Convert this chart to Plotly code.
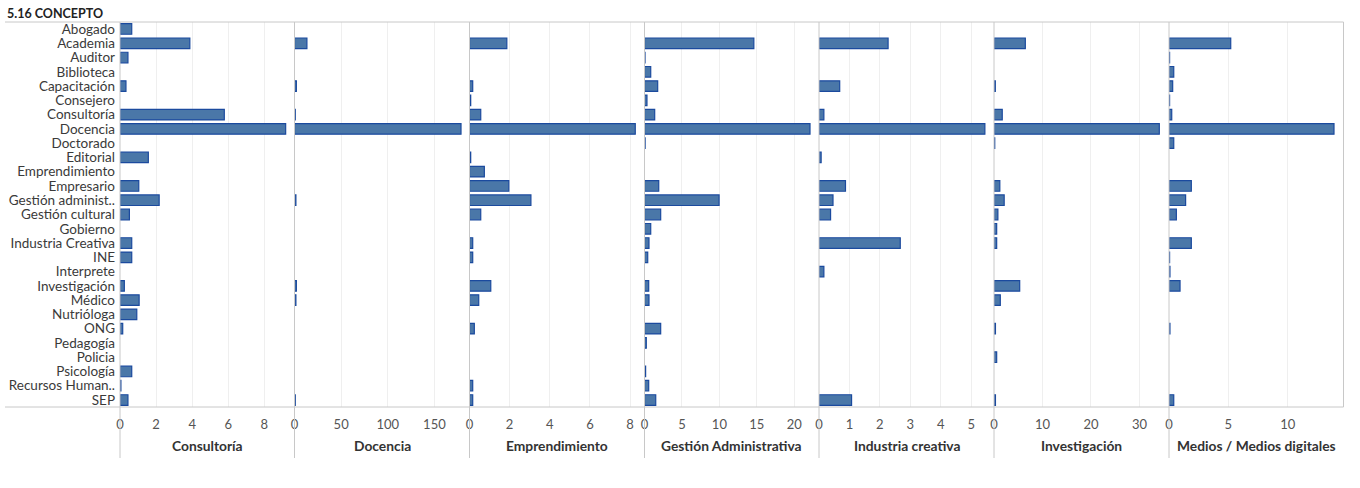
import plotly.graph_objects as go

W, H = 1360, 488

categories = ["Abogado", "Academia", "Auditor", "Biblioteca", "Capacitación", "Consejero",
              "Consultoría", "Docencia", "Doctorado", "Editorial", "Emprendimiento", "Empresario",
              "Gestión administ..", "Gestión cultural", "Gobierno", "Industria Creativa", "INE",
              "Interprete", "Investigación", "Médico", "Nutrióloga", "ONG", "Pedagogía", "Policia",
              "Psicología", "Recursos Human..", "SEP"]

panels = ["Consultoría", "Docencia", "Emprendimiento", "Gestión Administrativa",
          "Industria creativa", "Investigación", "Medios / Medios digitales"]

N = None
consultoria = [0.65, 3.87, 0.44, N, 0.33, N, 5.78, 9.18, N, 1.57, N, 1.04, 2.17, 0.52, N, 0.65,
               0.65, N, 0.24, 1.06, 0.93, 0.15, N, N, 0.65, 0.05, 0.44]
docencia = [N, 13.3, N, N, 2.0, N, 0.8, 178.5, N, N, N, N, 1.5, N, N, N,
            N, N, 2.0, 1.5, N, N, N, N, N, N, 0.8]
emprendimiento = [N, 1.86, N, N, 0.16, 0.06, 0.56, 8.26, N, 0.06, 0.74, 1.96, 3.06, 0.56, N, 0.16,
                  0.16, N, 1.06, 0.46, N, 0.24, N, N, N, 0.16, 0.16]
gestion_adm = [N, 14.6, 0.07, 0.83, 1.76, 0.33, 1.36, 22.1, 0.08, N, N, 1.9, 9.96, 2.16, 0.83, 0.6,
               0.43, N, 0.56, 0.6, N, 2.16, 0.24, N, 0.15, 0.56, 1.5]
industria = [N, 2.27, N, N, 0.68, N, 0.16, 5.45, N, 0.07, N, 0.87, 0.46, 0.38, N, 2.67,
             N, 0.16, N, N, N, N, N, N, N, N, 1.07]
investigacion = [N, 6.46, N, N, 0.27, N, 1.7, 34.1, 0.15, N, N, 1.2, 2.1, 0.8, 0.55, 0.55,
                 N, N, 5.3, 1.3, N, 0.3, N, 0.55, N, N, 0.3]
medios = [N, 5.2, 0.05, 0.4, 0.31, 0.05, 0.23, 13.9, 0.4, N, N, 1.88, 1.4, 0.62, N, 1.88,
          0.05, 0.08, 0.93, N, N, 0.08, N, N, N, N, 0.4]

series = [consultoria, docencia, emprendimiento, gestion_adm, industria, investigacion, medios]
tick_sets = [[0, 2, 4, 6, 8], [0, 50, 100, 150], [0, 2, 4, 6, 8], [0, 5, 10, 15, 20],
             [0, 1, 2, 3, 4, 5], [0, 10, 20, 30], [0, 5, 10]]
x_max = [9.67, 187.6, 8.72, 23.3, 5.75, 36.1, 14.7]

# panel pixel edges
edges = [120, 294.5, 469.5, 644.5, 819, 994, 1169, 1343.5]

FONT = "Lato"
BAR_FILL = "#4a77a8"
BAR_LINE = "#1b4a9e"

fig = go.Figure()
y_top, y_bot = 22, 407
ydom = [1 - y_bot / H, 1 - y_top / H]

layout = dict(
    width=W, height=H, margin=dict(l=0, r=0, t=0, b=0, autoexpand=False),
    plot_bgcolor="white", paper_bgcolor="white", showlegend=False,
    font=dict(family=FONT, color="#333"),
    bargap=0.25,
)

for i, (name, vals) in enumerate(zip(panels, series)):
    ax = "x" if i == 0 else f"x{i+1}"
    fig.add_trace(go.Bar(
        x=vals, y=categories, orientation="h", xaxis=ax, yaxis="y",
        marker=dict(color=BAR_FILL, line=dict(color=BAR_LINE, width=1.2)),
        width=0.74, name=name, hovertemplate="%{y}: %{x}<extra>" + name + "</extra>",
    ))
    key = "xaxis" if i == 0 else f"xaxis{i+1}"
    layout[key] = dict(
        domain=[edges[i] / W, edges[i + 1] / W], anchor="y", automargin=False,
        range=[0, x_max[i]], tickmode="array", tickvals=tick_sets[i],
        ticktext=[str(t) for t in tick_sets[i]],
        showgrid=True, gridcolor="#efefef", gridwidth=1, zeroline=False, showline=False,
        ticks="", tickfont=dict(family=FONT, size=13, color="#555"),
        ticklabelstandoff=8, fixedrange=True,
    )

layout["yaxis"] = dict(
    domain=ydom, anchor="x", type="category", categoryorder="array", categoryarray=categories,
    tickmode="array", tickvals=categories, ticktext=categories, automargin=False,
    range=[26.49, -0.49], showgrid=False, zeroline=False, showline=False, ticks="",
    tickfont=dict(family=FONT, size=13.5, color="#3a3a3a"), ticklabelstandoff=4, fixedrange=True,
)

shapes = []
line_col = "#c8c8c8"
# horizontal borders
for yp in (y_top, y_bot):
    shapes.append(dict(type="line", xref="paper", yref="paper", x0=5 / W, x1=edges[-1] / W,
                       y0=1 - yp / H, y1=1 - yp / H, line=dict(color=line_col, width=1)))
# panel separators extending into axis area
for xp in edges[:-1]:
    shapes.append(dict(type="line", xref="paper", yref="paper", x0=xp / W, x1=xp / W,
                       y0=1 - 458 / H, y1=1 - y_top / H, line=dict(color=line_col, width=1)))
# right border
shapes.append(dict(type="line", xref="paper", yref="paper", x0=edges[-1] / W, x1=edges[-1] / W,
                   y0=1 - y_bot / H, y1=1 - y_top / H, line=dict(color=line_col, width=1)))
layout["shapes"] = shapes

annotations = [dict(text="<b>5.16 CONCEPTO</b>", xref="paper", yref="paper", x=5 / W, y=1 - 13 / H,
                    xanchor="left", yanchor="middle", showarrow=False,
                    font=dict(family=FONT, size=12.5, color="#222"))]
for i, name in enumerate(panels):
    annotations.append(dict(text=f"<b>{name}</b>", xref="paper", yref="paper",
                            x=(edges[i] + edges[i + 1]) / 2 / W, y=1 - 445 / H,
                            xanchor="center", yanchor="middle", showarrow=False,
                            font=dict(family=FONT, size=13.8, color="#333")))
layout["annotations"] = annotations

fig.update_layout(**layout)
fig.write_html("out.html", config={"displayModeBar": False},
               post_script="document.body.style.margin='0';")
